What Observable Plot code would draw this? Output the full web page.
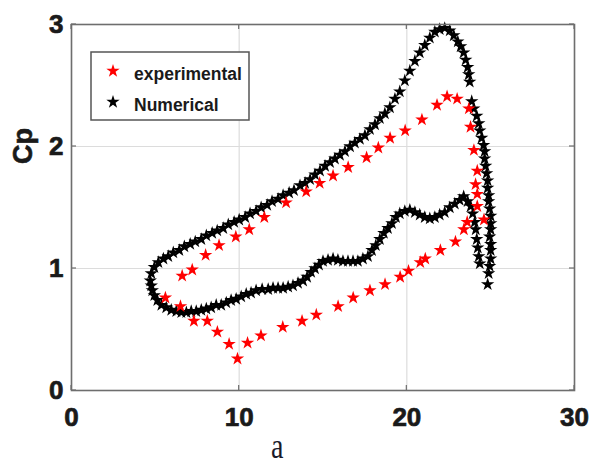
<!DOCTYPE html>
<html><head><meta charset="utf-8">
<script src="https://cdn.jsdelivr.net/npm/d3@7"></script>
<script src="https://cdn.jsdelivr.net/npm/@observablehq/plot@0.6"></script>
<style>
body{margin:0;background:#fff}
#chart svg{display:block}
#chart g[aria-label$="tick label"] text{stroke:#1a1a1a;stroke-width:0.7px}
</style>
</head><body><div id="chart"></div>
<script>
const xTicks = [0, 10, 20, 30];
const yTicks = [0, 1, 2, 3];
const seriesNames = ["experimental", "Numerical"];
const seriesColors = ["#ff0000", "#000000"];
const xLabel = "a";
const yLabel = "Cp";

// experimental (red stars)
const expA = [6.6,7.2,8.0,8.8,9.8,10.6,11.5,12.8,14.0,14.8,15.6,16.5,17.6,18.3,19.0,19.9,20.9,21.8,22.4,23.0,23.7,23.8,24.0,24.2,24.1,24.2,24.2,24.6,
  23.6,23.4,22.9,22.0,21.1,20.8,20.1,19.6,18.7,17.8,16.8,15.9,14.6,13.75,12.6,11.3,10.5,9.9,9.4,8.7,8.1,7.3,6.5,5.6];
const expCp = [0.94,0.99,1.11,1.19,1.26,1.32,1.42,1.54,1.63,1.70,1.76,1.83,1.91,1.99,2.07,2.13,2.22,2.34,2.41,2.39,2.31,2.16,1.97,1.80,1.69,1.61,1.51,1.40,
  1.38,1.32,1.22,1.15,1.08,1.05,0.98,0.93,0.87,0.82,0.76,0.69,0.62,0.57,0.52,0.45,0.39,0.26,0.38,0.48,0.57,0.57,0.69,0.76];

// Numerical (black stars)
const numA = [4.70,4.76,4.94,5.18,5.48,5.77,6.07,6.43,6.73,7.08,7.38,7.74,8.04,8.39,8.69,9.05,9.35,9.70,10.00,10.36,10.65,11.01,11.31,11.67,11.96,12.32,12.62,12.98,13.27,13.63,13.93,14.23,14.52,14.82,15.12,15.42,15.71,16.01,16.31,16.61,16.90,17.20,17.50,17.80,18.10,18.39,18.69,18.99,19.29,19.58,19.88,20.18,20.48,20.77,21.07,21.37,21.67,21.96,22.26,22.56,22.80,23.04,23.21,23.39,23.51,23.63,23.69,23.75,
  23.87,23.99,24.17,24.29,24.35,24.46,24.58,24.64,24.64,24.70,24.76,24.82,24.82,24.88,24.88,24.94,25.00,25.00,25.00,24.94,25.00,25.00,25.00,24.94,24.88,24.82,
  24.35,24.29,24.23,24.17,24.11,24.05,23.93,23.81,23.63,23.39,23.15,22.86,22.56,22.26,21.96,21.67,21.37,21.07,20.77,20.48,20.18,19.88,19.58,19.35,19.11,18.87,18.63,18.39,18.15,17.92,17.68,17.38,17.08,16.79,16.49,16.19,15.89,15.60,15.30,15.00,14.76,14.52,14.29,14.05,13.81,13.51,13.21,12.92,12.62,12.32,12.02,11.73,11.37,11.01,10.71,10.42,10.12,9.82,9.52,9.23,8.93,8.63,8.33,8.04,7.74,7.44,7.14,6.85,6.55,6.25,5.95,5.65,5.36,5.12,4.94,4.82,4.76];
const numCp = [0.90,0.96,1.01,1.05,1.08,1.10,1.13,1.15,1.18,1.20,1.22,1.24,1.27,1.29,1.31,1.33,1.36,1.38,1.40,1.42,1.45,1.47,1.50,1.52,1.55,1.57,1.60,1.62,1.64,1.68,1.70,1.73,1.77,1.80,1.84,1.87,1.90,1.93,1.96,2.00,2.03,2.06,2.09,2.14,2.18,2.23,2.27,2.32,2.39,2.45,2.54,2.62,2.70,2.77,2.83,2.89,2.94,2.96,2.97,2.95,2.91,2.86,2.82,2.77,2.71,2.65,2.59,2.53,
  2.37,2.31,2.25,2.19,2.13,2.07,2.01,1.96,1.90,1.84,1.78,1.72,1.66,1.60,1.55,1.49,1.43,1.37,1.32,1.26,1.20,1.15,1.08,1.02,0.96,0.87,
  1.04,1.10,1.17,1.24,1.32,1.38,1.45,1.51,1.55,1.59,1.56,1.53,1.50,1.46,1.44,1.42,1.41,1.42,1.44,1.46,1.48,1.47,1.45,1.42,1.37,1.33,1.29,1.24,1.19,1.15,1.10,1.08,1.06,1.06,1.06,1.06,1.07,1.08,1.07,1.06,1.03,1.00,0.97,0.93,0.90,0.88,0.86,0.85,0.84,0.84,0.84,0.83,0.83,0.82,0.80,0.79,0.77,0.75,0.74,0.72,0.70,0.70,0.68,0.67,0.66,0.65,0.65,0.64,0.64,0.65,0.66,0.68,0.70,0.74,0.78,0.82,0.86];

const expData = expA.map((a, i) => ({a, cp: expCp[i], s: seriesNames[0]}));
const numData = numA.map((a, i) => ({a, cp: numCp[i], s: seriesNames[1]}));

const W = 592, H = 466, R = 4.2;
const plot = Plot.plot({
  width: W, height: H,
  marginLeft: 71, marginRight: 18, marginTop: 24, marginBottom: 76,
  x: {domain: [0, 30]},
  y: {domain: [0, 3]},
  style: {fontFamily: "'Liberation Sans', Arial, sans-serif", background: "#fff", color: "#1a1a1a"},
  marks: [
    Plot.gridX(xTicks, {stroke: "#dcdcdc", strokeOpacity: 1, strokeWidth: 1.2}),
    Plot.gridY(yTicks, {stroke: "#dcdcdc", strokeOpacity: 1, strokeWidth: 1.2}),
    Plot.dot(numData, {x: "a", y: "cp", symbol: "star", fill: seriesColors[1], stroke: "none", r: R}),
    Plot.dot(expData, {x: "a", y: "cp", symbol: "star", fill: seriesColors[0], stroke: "none", r: R}),
    Plot.frame({stroke: "#6e6e6e", strokeWidth: 1.6}),
    Plot.axisX(xTicks, {tickSize: 0, tickPadding: 17, fontSize: 26, fontWeight: "bold", label: null, fill: "#1a1a1a", tickFormat: d3.format("d")}),
    Plot.axisY(yTicks, {tickSize: 0, tickPadding: 8, fontSize: 26, fontWeight: "bold", label: null, fill: "#1a1a1a", tickFormat: d3.format("d")})
  ]
});
document.getElementById("chart").appendChild(plot);

const svg = d3.select(plot);
const sx = plot.scale("x"), sy = plot.scale("y");
const x0 = sx.apply(0), x1 = sx.apply(30), y0 = sy.apply(0), y1 = sy.apply(3);

// MATLAB-style inward ticks
const tg = svg.append("g").attr("stroke", "#6e6e6e").attr("stroke-width", 1.2);
xTicks.forEach(t => {
  const px = sx.apply(t);
  tg.append("line").attr("x1", px).attr("x2", px).attr("y1", y0).attr("y2", y0 - 5);
  tg.append("line").attr("x1", px).attr("x2", px).attr("y1", y1).attr("y2", y1 + 5);
});
yTicks.forEach(t => {
  const py = sy.apply(t);
  tg.append("line").attr("x1", x0).attr("x2", x0 + 5).attr("y1", py).attr("y2", py);
  tg.append("line").attr("x1", x1).attr("x2", x1 - 5).attr("y1", py).attr("y2", py);
});

// axis titles
svg.append("text").text(xLabel)
  .attr("transform", `translate(${sx.apply(12.3)},${H - 8}) scale(0.8,1)`)
  .attr("text-anchor", "middle")
  .attr("font-family", "'Liberation Serif', 'Times New Roman', serif")
  .attr("font-size", 35).attr("fill", "#1a1a2a");
svg.append("text").text(yLabel)
  .attr("transform", `translate(32,${sy.apply(2.0)}) rotate(-90)`)
  .attr("text-anchor", "middle")
  .attr("font-family", "'Liberation Sans', Arial, sans-serif")
  .attr("font-weight", "bold").attr("font-size", 27)
  .attr("fill", "#1a1a1a").attr("stroke", "#1a1a1a").attr("stroke-width", 0.6);

// legend
const lg = svg.append("g");
lg.append("rect").attr("x", 91).attr("y", 52).attr("width", 158).attr("height", 68)
  .attr("fill", "#fff").attr("stroke", "#555").attr("stroke-width", 1.5);
const star = d3.symbol(d3.symbolStar, Math.PI * R * R);
seriesNames.forEach((name, i) => {
  const cy = 72 + i * 31;
  lg.append("path").attr("d", star()).attr("transform", `translate(113,${cy - 1})`).attr("fill", seriesColors[i]);
  lg.append("text").text(name).attr("x", 134).attr("y", cy + 8)
    .attr("text-anchor", "start")
    .attr("font-family", "'Liberation Sans', Arial, sans-serif")
    .attr("font-weight", "bold").attr("font-size", 17.5).attr("fill", "#1a1a1a");
});
</script>
</body></html>
